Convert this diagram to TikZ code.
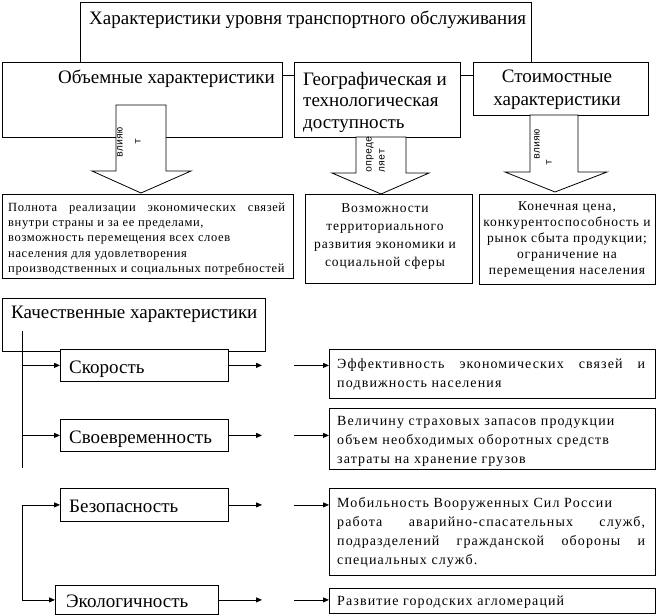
\documentclass[tikz,border=0pt]{standalone}
\usepackage{fontspec}
\setmainfont{Liberation Serif}
\newfontfamily\monof{Liberation Mono}
\newfontfamily\spacedA[LetterSpace=8]{Liberation Serif}
\newfontfamily\spacedB[LetterSpace=5]{Liberation Serif}
\newfontfamily\spacedC[LetterSpace=6.5]{Liberation Serif}
\usetikzlibrary{arrows.meta}
\begin{document}
\begin{tikzpicture}[x=1pt,y=-1pt,
  box/.style={draw, line width=0.8pt, fill=white, inner sep=0pt, anchor=north west},
  bigtxt/.style={font=\fontsize{19}{21.5}\selectfont, inner sep=0pt},
  midtxt/.style={font=\spacedA\fontsize{14}{19}\selectfont, inner sep=0pt},
  ctrtxt/.style={font=\spacedC\fontsize{13.5}{18.3}\selectfont, inner sep=0pt, anchor=north, align=center},
  smalltxt/.style={font=\spacedB\fontsize{12.5}{15.25}\selectfont, inner sep=0pt},
  rottxt/.style={font=\monof\fontsize{10}{11}\selectfont, inner sep=0pt, rotate=90},
  blockarrow/.style={draw, line width=0.8pt, fill=white, line join=miter},
  link/.style={line width=0.8pt, -{Triangle[length=6pt,width=5pt]}},
  trunk/.style={line width=0.8pt}
]
\useasboundingbox (0,0) rectangle (657,616);

% ---------- top section ----------
\node[box, minimum width=451, minimum height=73] (top) at (80,2) {};
\node[bigtxt, anchor=base west] (toptxt) at (89,24) {Характеристики уровня транспортного обслуживания};
\node[box, minimum width=280, minimum height=75] (vol) at (2,62) {};
\node[box, minimum width=166, minimum height=75] (geo) at (294,62) {};
\node[box, minimum width=175, minimum height=53] (cost) at (473,62) {};
\node[bigtxt, anchor=base west] (voltxt) at (58,83) {Объемные характеристики};
\node[bigtxt, anchor=north west, align=left] (geotxt) at (303,72) {Географическая и\\технологическая\\доступность};
\node[bigtxt, anchor=north, align=center, font=\fontsize{19}{23}\selectfont] (costtxt) at (557,70) {Стоимостные\\характеристики};

% block arrows
\draw[blockarrow] (116,105) -- (116,171) -- (92,171) -- (141,193) -- (191,171) -- (166,171) -- (166,105) -- cycle;
\draw[blockarrow] (356,137) -- (356,173) -- (332,173) -- (381,194) -- (429,173) -- (406,173) -- (406,137) -- cycle;
\draw[blockarrow] (530,115) -- (530,172) -- (505,172) -- (555,192) -- (607,172) -- (578,172) -- (578,115) -- cycle;
\node[rottxt] (a1t1) at (120,142) {влияю};
\node[rottxt] (a1t2) at (138,141) {т};
\node[rottxt, anchor=west] (a2t1) at (370,173) {опреде};
\node[rottxt, anchor=west] (a2t2) at (382,173) {ляет};
\node[rottxt] (a3t1) at (537,144) {влияю};
\node[rottxt] (a3t2) at (549,162) {т};

\node[box, minimum width=291, minimum height=84] (p1) at (2,194) {};
\node[box, minimum width=167, minimum height=89] (p2) at (305,194) {};
\node[box, minimum width=176, minimum height=90] (p3) at (479,194) {};
\node[smalltxt, anchor=north west, align=left] (p1t) at (8,202.5) {\makebox[277pt][s]{Полнота реализации экономических связей}\\внутри страны и за ее пределами,\\возможность перемещения всех слоев\\населения для удовлетворения\\производственных и социальных потребностей};
\node[ctrtxt] (p2t) at (385,203) {Возможности\\территориального\\развития экономики и\\социальной сферы};
\node[ctrtxt, font=\spacedC\fontsize{13.5}{16}\selectfont] (p3t) at (567,201.5) {Конечная цена,\\конкурентоспособность и\\рынок сбыта продукции;\\ограничение на\\перемещения населения};

% ---------- bottom section ----------
\node[box, minimum width=263, minimum height=53] (qual) at (2,298) {};
\node[bigtxt, anchor=base west] (qualt) at (11,318) {Качественные характеристики};

\node[box, minimum width=168, minimum height=32] (spd) at (60,349) {};
\node[box, minimum width=168, minimum height=32] (tim) at (60,419) {};
\node[box, minimum width=168, minimum height=33] (saf) at (60,488) {};
\node[box, minimum width=163, minimum height=29] (eco) at (55,585) {};
\node[bigtxt, anchor=base west] (spdt) at ([xshift=9pt,yshift=-8pt]spd.west) {Скорость};
\node[bigtxt, anchor=base west] (timt) at ([xshift=9pt,yshift=-8pt]tim.west) {Своевременность};
\node[bigtxt, anchor=base west] (saft) at ([xshift=9pt,yshift=-8pt]saf.west) {Безопасность};
\node[bigtxt, anchor=base west] (ecot) at ([xshift=11pt,yshift=-8pt]eco.west) {Экологичность};

\node[box, minimum width=326, minimum height=49] (eff) at (329,349) {};
\node[box, minimum width=326, minimum height=61] (stock) at (329,408) {};
\node[box, minimum width=326, minimum height=87] (mob) at (329,488) {};
\node[box, minimum width=326, minimum height=25] (agl) at (329,588) {};
\node[midtxt, anchor=north west, align=left] (efft) at (337,358.5) {\makebox[308pt][s]{Эффективность экономических связей и}\\подвижность населения};
\node[midtxt, anchor=north west, align=left] (stockt) at (337,416.5) {Величину страховых запасов продукции\\объем необходимых оборотных средств\\затраты на хранение грузов};
\node[midtxt, anchor=north west, align=left] (mobt) at (337,497.5) {Мобильность Вооруженных Сил России\\\makebox[308pt][s]{работа аварийно-спасательных служб,}\\\makebox[308pt][s]{подразделений гражданской обороны и}\\специальных служб.};
\node[midtxt, anchor=base west] (aglt) at (337,605) {Развитие городских агломераций};

% trunk and links
\coordinate (trx) at (22,0);
\coordinate (colA) at (262,0);
\coordinate (colB) at (294,0);
\coordinate (tr0) at (22,331);
\coordinate (tr1) at (22,468);
\coordinate (b1) at (trx |- spd.west);
\coordinate (b2) at (trx |- tim.west);
\coordinate (b3) at (trx |- saf.west);
\draw[trunk] (tr0) -- (tr1);
\draw[link] (b1) -- (spd.west);
\draw[link] (b2) -- (tim.west);
\draw[link] (b3) -- (saf.west);
\draw[link] (b3) |- (eco.west);

\foreach \s/\t/\n in {spd/eff/1, tim/stock/2, saf/mob/3, eco/agl/4}{
  \coordinate (ra\n) at (colA |- \s.east);
  \coordinate (rb\n) at (colB |- \s.east);
  \coordinate (rc\n) at (\t.west |- \s.east);
  \draw[link] (\s.east) -- (ra\n);
  \draw[link] (rb\n) -- (rc\n);
}
\end{tikzpicture}
\end{document}
